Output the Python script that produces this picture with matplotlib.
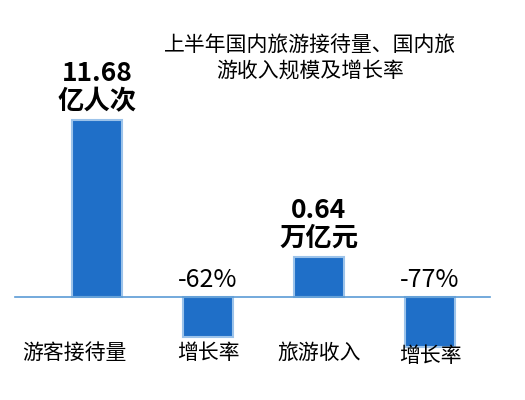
import matplotlib
matplotlib.use("Agg")
import matplotlib.pyplot as plt

plt.rcParams['font.family'] = ['Noto Sans CJK SC', 'DejaVu Sans']

categories = ["游客接待量", "增长率", "旅游收入", "增长率"]
value_labels = ["11.68\n亿人次", "-62%", "0.64\n万亿元", "-77%"]
bar_heights = [177, -40, 40, -50]  # visual heights as drawn in the source
title = "上半年国内旅游接待量、国内旅\n游收入规模及增长率"

fig = plt.figure(figsize=(5.25, 4), dpi=100)
ax = fig.add_axes([0, 0, 1, 1])
ax.set_xlim(-97/111, (525-97)/111)
ax.set_ylim(-103, 297)
ax.axis('off')

x = list(range(len(categories)))
ax.bar(x, bar_heights, width=0.45, color='#1f6fc8', edgecolor='#9cc3ea', linewidth=1.5, zorder=2)
ax.plot([(15-97)/111, (490-97)/111], [0, 0], color='#5b9bd5', lw=1.2, zorder=3)

for i, (h, lab) in enumerate(zip(bar_heights, value_labels)):
    if h > 0:
        ax.text(i, h + 5, lab, ha='center', va='bottom', fontsize=19, fontweight='bold', linespacing=1.05)
    else:
        ax.text(i, 4, lab, ha='center', va='bottom', fontsize=18)

label_x = [-0.2, 0, 0, 0]
label_y = [-56, -56, -56, -59]
for i, c in enumerate(categories):
    ax.text(i + label_x[i], label_y[i], c, ha='center', va='center', fontsize=15)

ax.text((310-97)/111, 297-58, title, ha='center', va='center', fontsize=15, linespacing=1.25)

fig.savefig("out.png", dpi=100)
